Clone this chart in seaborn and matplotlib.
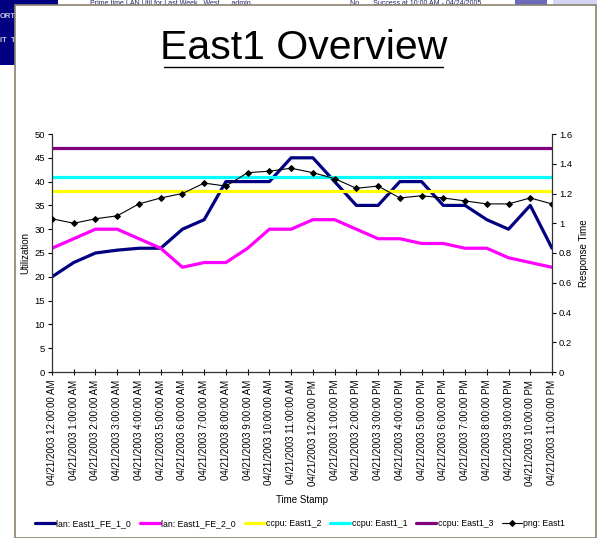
import matplotlib
matplotlib.use("Agg")
import matplotlib.pyplot as plt
from matplotlib.patches import Rectangle
from matplotlib.lines import Line2D
import seaborn as sns

# ---------------------------------------------------------------------
# data
# ---------------------------------------------------------------------
hours = ["12:00:00 AM", "1:00:00 AM", "2:00:00 AM", "3:00:00 AM", "4:00:00 AM",
         "5:00:00 AM", "6:00:00 AM", "7:00:00 AM", "8:00:00 AM", "9:00:00 AM",
         "10:00:00 AM", "11:00:00 AM", "12:00:00 PM", "1:00:00 PM", "2:00:00 PM",
         "3:00:00 PM", "4:00:00 PM", "5:00:00 PM", "6:00:00 PM", "7:00:00 PM",
         "8:00:00 PM", "9:00:00 PM", "10:00:00 PM", "11:00:00 PM"]
time_labels = ["04/21/2003 " + h for h in hours]
x_pos = list(range(len(time_labels)))

lan_fe_1_0 = [20, 23, 25, 25.6, 26, 26, 30, 32, 40, 40, 40, 45,
              45, 40, 35, 35, 40, 40, 35, 35, 32, 30, 35, 26]
lan_fe_2_0 = [26, 28, 30, 30, 28, 26, 22, 23, 23, 26, 30, 30,
              32, 32, 30, 28, 28, 27, 27, 26, 26, 24, 23, 22]
ccpu_2 = [38] * 24
ccpu_1 = [41] * 24
ccpu_3 = [47] * 24
png_east1 = [1.03, 1.0, 1.03, 1.05, 1.13, 1.17, 1.2, 1.27, 1.25, 1.34, 1.35, 1.37,
             1.34, 1.3, 1.235, 1.25, 1.17, 1.185, 1.17, 1.15, 1.13, 1.13, 1.17, 1.13]

W, H = 597, 538

sns.set_style("white")
plt.rcParams["font.family"] = ["Liberation Sans", "DejaVu Sans"]
plt.rcParams["text.color"] = "black"
plt.rcParams["axes.labelcolor"] = "black"
plt.rcParams["xtick.color"] = "black"
plt.rcParams["ytick.color"] = "black"

fig = plt.figure(figsize=(W / 100, H / 100), dpi=100)
fig.patch.set_facecolor("white")

# window chrome behind the chart panel
fig.add_artist(Rectangle((0, 1 - 65 / H), 58 / W, 65 / H, transform=fig.transFigure,
                         facecolor="#000080", edgecolor="none", zorder=-5))
fig.add_artist(Rectangle((553 / W, 1 - 6 / H), 44 / W, 6 / H, transform=fig.transFigure,
                         facecolor="#d4d4f4", edgecolor="none", zorder=-5))
fig.add_artist(Rectangle((515 / W, 1 - 6 / H), 32 / W, 6 / H, transform=fig.transFigure,
                         facecolor="#6a6ab8", edgecolor="none", zorder=-4))
fig.text(0, 1 - 16 / H, "ORT", color="#c8c8e8", fontsize=5.5, weight="bold",
         va="center", zorder=-4)
fig.text(0, 1 - 40 / H, "IT  T", color="#c8c8e8", fontsize=5.5, weight="bold",
         va="center", zorder=-4)
fig.text(90 / W, 1, "Prime time LAN Util for Last Week   West      admin",
         fontsize=5, color="#222266", va="top", zorder=-4)
fig.text(350 / W, 1, "No       Success at 10:00 AM - 04/24/2005",
         fontsize=5, color="#222266", va="top", zorder=-4)

# white chart panel with grey border
fig.add_artist(Rectangle((15 / W, 0), 581 / W, 1 - 5 / H, transform=fig.transFigure,
                         facecolor="white", edgecolor="#8c8270", linewidth=1.2, zorder=-1))

# title with underline
fig.text(304 / W, 1 - 59 / H, "East1 Overview", fontsize=29.5, ha="center",
         va="baseline", color="black")
fig.add_artist(Line2D([164 / W, 443 / W], [1 - 66.5 / H, 1 - 66.5 / H],
                      transform=fig.transFigure, color="black", linewidth=1))

ax = fig.add_axes([52 / W, (H - 372) / H, 500 / W, 238 / H])
ax.set_facecolor("none")
ax2 = ax.twinx()

sns.lineplot(x=x_pos, y=lan_fe_1_0, ax=ax, color="#000080", linewidth=2.3,
             label="lan: East1_FE_1_0")
sns.lineplot(x=x_pos, y=lan_fe_2_0, ax=ax, color="#ff00ff", linewidth=2.3,
             label="lan: East1_FE_2_0")
sns.lineplot(x=x_pos, y=ccpu_2, ax=ax, color="#ffff00", linewidth=2.3,
             label="ccpu: East1_2")
sns.lineplot(x=x_pos, y=ccpu_1, ax=ax, color="#00ffff", linewidth=2.3,
             label="ccpu: East1_1")
sns.lineplot(x=x_pos, y=ccpu_3, ax=ax, color="#800080", linewidth=2.3,
             label="ccpu: East1_3")
sns.lineplot(x=x_pos, y=png_east1, ax=ax2, color="black", linewidth=0.8,
             marker="D", markersize=3, markeredgecolor="black",
             label="png: East1")

handles = ax.get_legend_handles_labels()[0] + ax2.get_legend_handles_labels()[0]
labels = ax.get_legend_handles_labels()[1] + ax2.get_legend_handles_labels()[1]
ax.get_legend().remove()
ax2.get_legend().remove()

ax.set_xlim(0, 23)
ax.set_ylim(0, 50)
ax2.set_ylim(0, 1.6)
ax.set_yticks(range(0, 51, 5))
ax2.set_yticks([0, 0.2, 0.4, 0.6, 0.8, 1, 1.2, 1.4, 1.6])
ax2.set_yticklabels(["0", "0.2", "0.4", "0.6", "0.8", "1", "1.2", "1.4", "1.6"])
ax.set_xticks(x_pos)
ax.set_xticklabels(time_labels, rotation=90, fontsize=7, va="top", ha="center")

for a in (ax, ax2):
    a.spines["top"].set_visible(False)
    for s in ("left", "right", "bottom"):
        a.spines[s].set_color("#333333")
        a.spines[s].set_linewidth(0.9)
ax.spines["right"].set_visible(False)
ax2.spines["left"].set_visible(False)
ax2.spines["bottom"].set_visible(False)

ax.tick_params(axis="y", direction="out", length=3, width=0.8, pad=2,
               labelsize=6.8, left=True)
ax.tick_params(axis="x", direction="inout", length=5, width=0.8, pad=3,
               bottom=True)
ax2.tick_params(axis="y", direction="out", length=3, width=0.8, pad=2,
                labelsize=6.8, right=True)

ax.set_ylabel("Utilization", fontsize=7, labelpad=3)
ax2.set_ylabel("Response Time", fontsize=7, labelpad=5)
ax.set_xlabel("Time Stamp", fontsize=7, labelpad=7)

fig.legend(handles, labels, loc="center", bbox_to_anchor=(300 / W, 1 - 524 / H),
           ncol=6, frameon=False, fontsize=6.3, handlelength=2.3,
           handletextpad=0.15, columnspacing=1.0)

fig.savefig("out.png", dpi=100)
